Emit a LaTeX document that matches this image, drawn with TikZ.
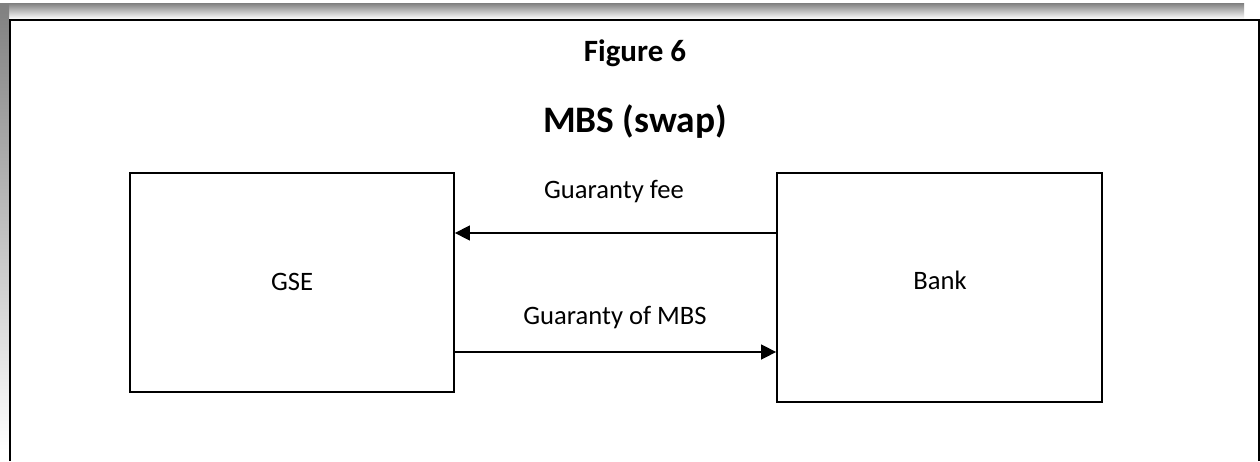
\documentclass[tikz,border=0pt]{standalone}
\usepackage{fontspec}
\setmainfont{Carlito}
\usetikzlibrary{arrows.meta}
\definecolor{shade}{RGB}{196,196,196}
\tikzset{
  box/.style={draw, line width=1.8pt, minimum width=#1, inner sep=0pt},
  arr/.style={line width=1.5pt, -{Triangle[length=15pt,width=15pt]}},
  lbl/.style={anchor=base, inner sep=0pt, font=\fontsize{26.6}{32}\selectfont},
  ttl/.style={anchor=base, inner sep=0pt, font=\bfseries\fontsize{31}{36}\selectfont},
  bigttl/.style={anchor=base, inner sep=0pt, font=\bfseries\fontsize{37.4}{44}\selectfont},
}
\begin{document}
\begin{tikzpicture}[x=1pt,y=-1pt]
\useasboundingbox (0,0) rectangle (1260,461);
\fill[white] (0,0) rectangle (1260,461);
% shadow bands
\fill[shade] (0,3) rectangle (1244,19);
\fill[shade] (0,3) rectangle (9,450);
% frame
\draw[line width=2pt] (10,461) -- (10,20) -- (1258.5,20) -- (1258.5,461);
% titles
\node[ttl] (fig) at (635,61) {Figure 6};
\node[bigttl] (title) at (635,132) {MBS (swap)};
% boxes
\node[box=324pt, minimum height=219pt] (gse) at (292,282.5) {};
\node[box=325pt, minimum height=229pt] (bank) at (939.5,287.5) {};
\node[lbl] (gsetext) at (292,290) {GSE};
\node[lbl] (banktext) at (940,289) {Bank};
% connectors
\coordinate (yfee) at (0,233);
\coordinate (ymbs) at (0,352);
\draw[arr] (bank.west |- yfee) -- (gse.east |- yfee);
\draw[arr] (gse.east |- ymbs) -- (bank.west |- ymbs);
\node[lbl] (fee) at (614,198) {Guaranty fee};
\node[lbl] (gmbs) at (615,324) {Guaranty of MBS};
\end{tikzpicture}
\end{document}
